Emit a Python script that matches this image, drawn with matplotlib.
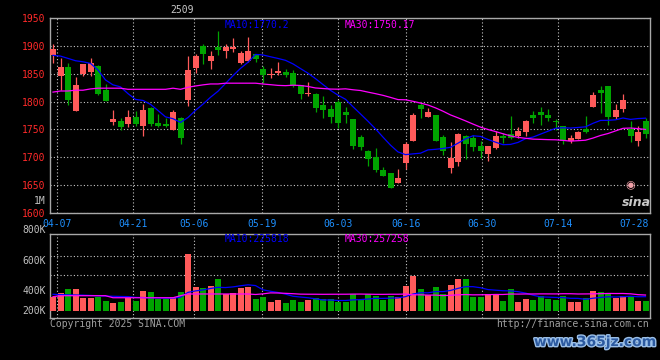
import numpy as np
import pandas as pd
import matplotlib
matplotlib.use('Agg')
import matplotlib.pyplot as plt
import matplotlib.patheffects as pe

# daily bars 04-07 .. 07-31
opens = [1883, 1846.5, 1862.5, 1783.6, 1849, 1853, 1864, 1820, 1763, 1766,
         1759, 1772, 1756, 1788, 1762, 1760, 1748.5, 1770, 1803, 1861,
         1899, 1873, 1898, 1891, 1894.6, 1870, 1873, 1885, 1858, 1848,
         1852, 1852.5, 1852, 1830, 1813, 1813, 1794, 1787, 1800, 1780.5,
         1769, 1737, 1711, 1700, 1678, 1671, 1654, 1690, 1729, 1794,
         1772, 1775, 1736, 1680, 1691, 1739, 1735, 1721, 1705, 1716,
         1739, 1741, 1738, 1745, 1775, 1780.5, 1776, 1764.5, 1757, 1730,
         1732, 1750, 1789.4, 1821, 1828, 1773, 1787, 1750, 1729, 1764.5]
highs = [1904, 1878, 1869.6, 1844.7, 1868, 1878, 1866, 1832, 1785, 1770.5,
         1785, 1782.6, 1796, 1791, 1778, 1770.5, 1785, 1772, 1881.6, 1885,
         1904, 1890.5, 1926, 1903, 1914, 1890.5, 1916, 1885, 1864, 1859.6,
         1871, 1858, 1856, 1830, 1834.7, 1815, 1810.3, 1794, 1803, 1789.4,
         1769.3, 1740.8, 1712.3, 1715.8, 1682.5, 1671.3, 1678.4, 1727.8, 1779.5, 1797,
         1788.4, 1775, 1740.8, 1727, 1743.8, 1740, 1740.8, 1729, 1720, 1746.7,
         1743.8, 1774.6, 1754.5, 1767.5, 1782.3, 1790, 1786.6, 1768.8, 1757, 1740.8,
         1748, 1774.6, 1818, 1828, 1828, 1796, 1814, 1764.5, 1755.6, 1770.5]
lows = [1870, 1820, 1794, 1783.6, 1846, 1846.5, 1811, 1801, 1758.6, 1748.5,
        1754, 1757, 1739, 1756, 1754.5, 1755, 1748.5, 1723, 1792.5, 1851,
        1867, 1858.4, 1883, 1878.5, 1888.7, 1868, 1871.4, 1871.4, 1834, 1841.8,
        1847.7, 1844.7, 1825.5, 1805, 1810.8, 1780.5, 1770.5, 1761.6, 1752.7, 1761.6,
        1714, 1712.3, 1684.3, 1673.6, 1666.5, 1645, 1654, 1679.7, 1729, 1771,
        1771.6, 1729, 1703.4, 1672.5, 1684, 1697, 1711, 1699, 1693, 1714,
        1724.8, 1733.7, 1735, 1739, 1761.6, 1758.6, 1764.5, 1749.7, 1723, 1724.8,
        1732, 1743.8, 1789.4, 1779.5, 1758.6, 1768.8, 1780.5, 1727, 1721, 1735]
closes = [1893.5, 1862.5, 1803, 1830, 1867, 1870, 1814, 1801, 1769, 1754,
          1772, 1759, 1784, 1760, 1757, 1755.6, 1781, 1734, 1857, 1882,
          1885, 1882, 1892, 1898, 1897.6, 1887, 1890, 1876, 1847, 1849.5,
          1855, 1848, 1828, 1814, 1815, 1789, 1784, 1772, 1761, 1775,
          1721, 1719, 1697, 1677, 1666.5, 1645, 1663, 1723, 1775, 1787,
          1780.5, 1729, 1712, 1698, 1741, 1723, 1718, 1711, 1720, 1739,
          1735, 1734, 1748, 1764.5, 1770, 1776, 1770.5, 1763, 1730, 1734,
          1745, 1745, 1812, 1816, 1772, 1785, 1803, 1738, 1745, 1741]
# volume in thousands
volumes = [225, 288, 346, 346, 209, 209, 225, 162, 131, 146,
           209, 162, 320, 304, 184, 184, 225, 304, 897, 373,
           362, 394, 504, 263, 288, 362, 373, 189, 225, 146,
           173, 131, 173, 137, 173, 200, 189, 189, 146, 146,
           268, 173, 268, 236, 173, 236, 225, 394, 556, 346,
           252, 373, 268, 409, 504, 504, 225, 225, 268, 252,
           162, 346, 146, 189, 173, 241, 184, 173, 241, 146,
           146, 200, 320, 304, 288, 200, 236, 241, 162, 162]

# averages at the left edge (earlier bars are off screen)
ma10_head = [1883, 1881.6, 1877.5, 1873.3, 1871.4, 1868.5, 1856.6, 1838.8, 1830]
ma30_head = [1817, 1819, 1819, 1820.4, 1820.4, 1822.7, 1824, 1824, 1824, 1824,
             1822, 1822, 1822, 1822, 1822, 1822, 1824, 1822, 1825.7, 1828,
             1830, 1831.6, 1831.6, 1833, 1833, 1833, 1833, 1833, 1831.5]
vol_ma10_head = [263, 258, 255, 252, 250, 245, 240, 236, 232]
vol_ma30_head = [225, 241, 241, 241, 241, 241, 241, 241, 209, 209,
                 209, 209, 209, 209, 209, 209, 209, 241, 268, 268,
                 268, 268, 268, 268, 268, 268, 268, 260, 270]

date_labels = ['04-07', '04-21', '05-06', '05-19', '06-03', '06-16', '06-30', '07-14', '07-28']
date_idx = [0, 10, 18, 27, 37, 46, 56, 66, 76]
price_ticks = [1600, 1650, 1700, 1750, 1800, 1850, 1900, 1950]
vol_labels = ['800K', '600K', '400K', '200K']

RED = '#ff5a5a'
GREEN = '#00a400'
GRID = '#c8c8c8'
BORDER = '#a8a8a8'
MONO = 'DejaVu Sans Mono'
plt.rcParams['font.family'] = MONO


def with_head(series, n, head):
    ma = pd.Series(series).rolling(n).mean().values
    ma[:len(head)] = head
    return ma


x = np.arange(len(closes))
o = np.array(opens)
c = np.array(closes)
up = c >= o
colors = np.where(up, RED, GREEN)

ma10 = with_head(closes, 10, ma10_head)
ma30 = with_head(closes, 30, ma30_head)
vma10 = with_head(volumes, 10, vol_ma10_head)
vma30 = with_head(volumes, 30, vol_ma30_head)

W, H = 660, 360
fig = plt.figure(figsize=(6.6, 3.6), dpi=100, facecolor='black')
ax = fig.add_axes([50 / W, 1 - 213 / H, 600 / W, 195 / H], facecolor='black')
axv = fig.add_axes([50 / W, 1 - 318 / H, 600 / W, 84 / H], facecolor='black')

# grid positions drift slightly from bar centres in the original
tick_pos = (np.array(date_idx) + 0.57) * 1.012
dot = (0, (1, 2))

for a in (ax, axv):
    a.set_xlim(-0.4, 79.6)
    for s in a.spines.values():
        s.set_color(BORDER)
        s.set_linewidth(1.0)
    for p in tick_pos[:-1]:
        a.axvline(p, color=GRID, lw=0.8, ls=dot, zorder=0)

# candles
body = np.maximum(np.abs(c - o), 1.5)
ax.vlines(x, lows, highs, colors=colors, lw=0.9, zorder=2)
ax.bar(x, body, bottom=np.minimum(o, c), width=0.8, color=colors, zorder=3)
ax.plot(x, ma10, color='#0000ff', lw=0.9, zorder=4)
ax.plot(x, ma30, color='#ff00ff', lw=0.9, zorder=4)

ax.set_ylim(1600, 1950)
ax.set_yticks(price_ticks)
ax.yaxis.grid(True, color=GRID, lw=0.8, ls=dot, zorder=0)
ax.tick_params(axis='y', length=0, pad=3, labelcolor='#ff2a2a', labelsize=7)
ax.set_xticks(tick_pos)
ax.set_xticklabels(date_labels)
ax.tick_params(axis='x', length=0, pad=4, labelcolor='#1e90ff', labelsize=7)

ax.text(175 / 600, 0.99, 'MA10:1770.2', transform=ax.transAxes, color='#0000ff',
        fontsize=7, va='top', ha='left')
ax.text(295 / 600, 0.99, 'MA30:1750.17', transform=ax.transAxes, color='#ff00ff',
        fontsize=7, va='top', ha='left')

# volume
axv.bar(x, volumes, width=0.8, color=colors, zorder=3)
axv.plot(x, vma10, color='#0000ff', lw=0.9, zorder=4)
axv.plot(x, vma30, color='#ff00ff', lw=0.9, zorder=4)
axv.set_ylim(-110, 1212)
axv.set_yticks([567, 866])
axv.set_yticklabels([])
axv.yaxis.grid(True, color=GRID, lw=0.8, ls=dot, zorder=0)
axv.tick_params(length=0)
axv.set_xticks([])
axv.text(175 / 600, 1.0, 'MA10:225818', transform=axv.transAxes, color='#0000ff',
         fontsize=7, va='top', ha='left', zorder=5)
axv.text(295 / 600, 1.0, 'MA30:257258', transform=axv.transAxes, color='#ff00ff',
         fontsize=7, va='top', ha='left', zorder=5)

for lab, ypx in zip(vol_labels, [230, 261, 291, 311]):
    fig.text(46 / W, 1 - ypx / H, lab, color='#c0c0c0', fontsize=7, ha='right', va='center')
fig.text(46 / W, 1 - 201 / H, '1M', color='#c0c0c0', fontsize=7, ha='right', va='center')

fig.text(182 / W, 1 - 10 / H, '2509', color='#c8c8c8', fontsize=7, ha='center', va='center')
fig.text(50 / W, 1 - 324 / H, 'Copyright 2025 SINA.COM', color='#a0a0a0', fontsize=7,
         ha='left', va='center')
fig.text(649 / W, 1 - 324 / H, 'http://finance.sina.com.cn', color='#a0a0a0', fontsize=7,
         ha='right', va='center')

# sina logo
fig.text(630 / W, 1 - 185 / H, '\u25c9', color='#f0a0a8', fontsize=8, ha='center', va='center',
         family='DejaVu Sans')
fig.text(636 / W, 1 - 203 / H, 'sina', color='#c8c8c8', fontsize=9, ha='center', va='center',
         family='DejaVu Sans', style='italic', weight='bold')

# site watermark
fig.text(595 / W, 1 - 342 / H, 'www.365jz.com', color='#2c5aa0', fontsize=10, ha='center',
         va='center', family='DejaVu Sans', weight='bold',
         path_effects=[pe.withStroke(linewidth=2, foreground='#9cc0e8')])

fig.savefig('out.png', dpi=100, facecolor='black')
